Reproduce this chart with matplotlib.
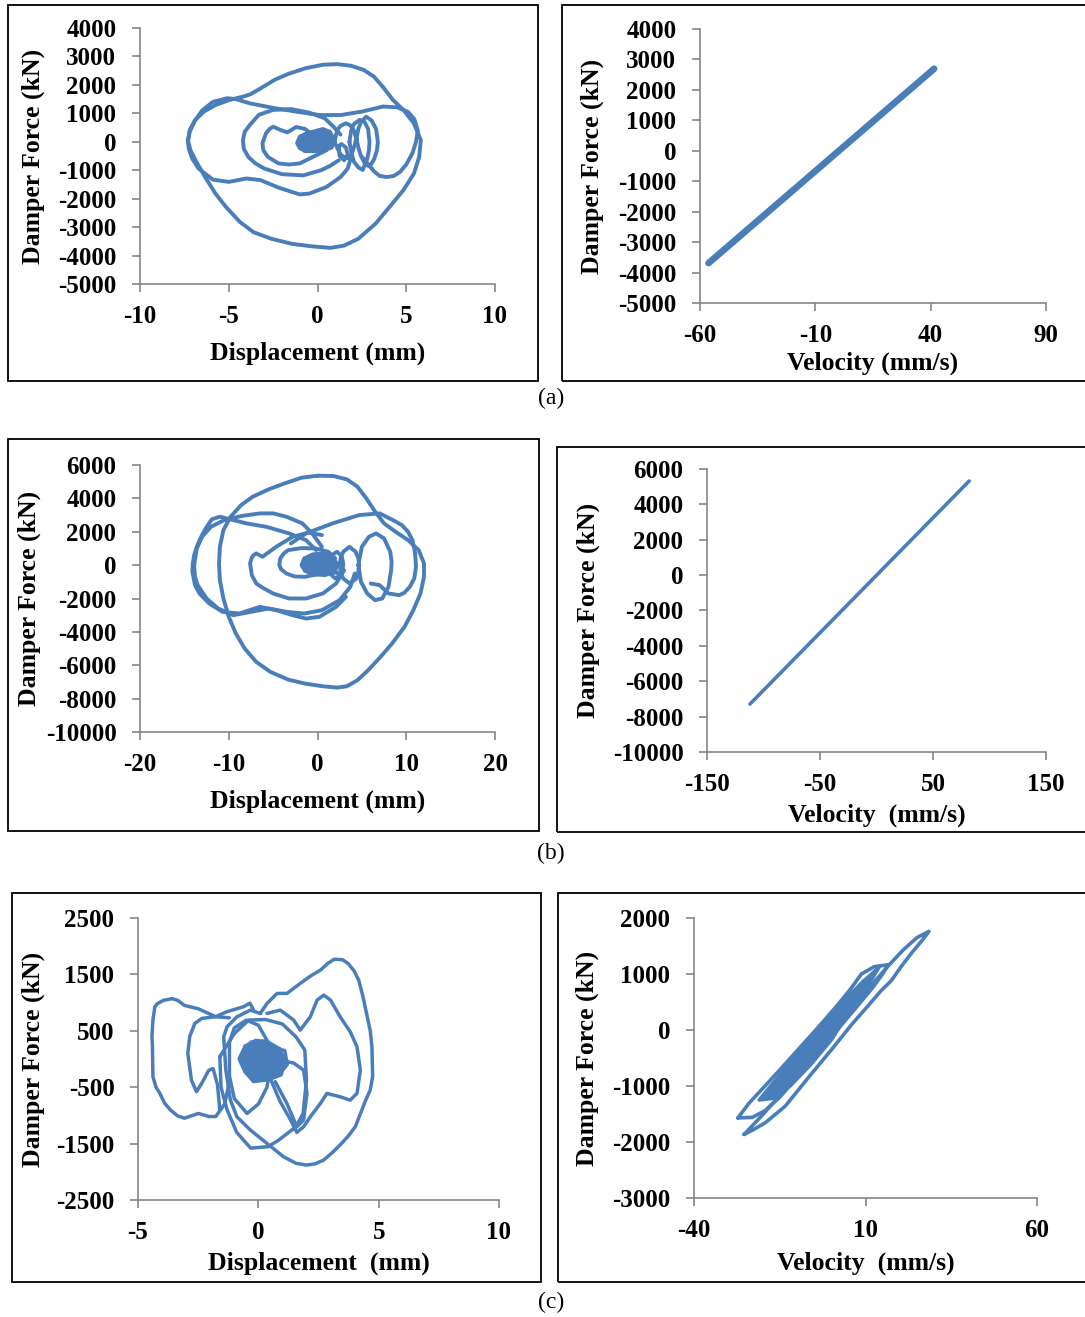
import matplotlib
matplotlib.use("Agg")
import matplotlib.pyplot as plt
from matplotlib.patches import Rectangle

plt.rcParams["font.family"] = ["Liberation Serif", "DejaVu Serif"]
plt.rcParams["font.weight"] = "bold"
plt.rcParams["axes.labelweight"] = "bold"
plt.rcParams["axes.unicode_minus"] = False

BLUE = "#4A7EBB"
GREY = "#868686"
W, H = 1085, 1317

# ---------------- (a) hysteresis, displacement [mm] vs damper force [kN]
a_disp_loops = [
    [3.67, 4.25, 4.84, 5.43, 5.82, 5.73, 5.43, 4.84, 4.06, 3.27, 2.3, 1.5, 0.73, -0.25, -1.43, -2.6, -3.6, -4.37,
     -5.16, -5.75, -6.33, -6.82, -7.16, -7.3, -7.2, -6.9, -6.4, -5.75, -4.96, -4.18, -3.78, -3.2, -2.41, -1.63,
     -0.65, 0.33, 1.12, 1.9, 2.59, 3.18, 3.67],
    [1.9, 1.7, 1.3, 0.5, -0.45, -1.0, -2.2, -3.2, -4.0, -5.0, -5.9, -6.7, -7.05, -7.25, -7.3, -7.2, -6.9, -6.5,
     -5.9, -5.1, -4.6, -3.8, -2.4, -1.2, 0.1, 1.3, 2.5, 3.7, 4.5, 5.1, 5.45, 5.65, 5.55, 5.35, 5.0, 4.65, 4.3,
     3.9, 3.5, 3.2, 2.9, 2.5],
    [1.2, 0.7, 0.2, -0.8, -2.0, -3.0, -3.5, -3.9, -4.15, -4.2, -4.1, -3.8, -3.3, -2.5, -1.5, -0.5, 0.4, 0.9, 1.3],
    [0.5, -0.25, -1.0, -1.6, -2.2, -2.8, -3.05, -3.1, -2.9, -2.7, -2.5, -2.1, -1.7, -1.2, -0.7, -0.3, 0.1],
    [0.96, 1.1, 1.3, 1.6, 1.85, 2.05, 2.18, 2.1, 2.0, 1.8, 1.55, 1.3, 1.1, 0.96],
    [1.8, 1.9, 2.05, 2.37, 2.65, 2.85, 2.93, 2.9, 2.8, 2.55, 2.3, 2.05, 1.9, 1.8],
    [2.2, 2.3, 2.45, 2.74, 3.05, 3.3, 3.4, 3.35, 3.2, 2.95, 2.7, 2.45, 2.3, 2.2],
    [1.2, 1.35, 1.6, 1.7, 1.5, 1.25, 1.2],
    [-0.9, -0.6, 0, 0.5, 0.8, 0.5, -0.1, -0.7, -0.9],
    [-0.7, -0.3, 0.3, 0.6, 0.3, -0.3, -0.7],
    [-0.5, 0, 0.4, 0.1, -0.4, -0.5],
]
a_force_loops = [
    [1940, 1470, 1120, 650, 60, -530, -1120, -1700, -2290, -2880, -3410, -3650, -3730, -3680, -3590, -3410,
     -3180, -2820, -2290, -1820, -1240, -710, -290, 60, 410, 760, 1060, 1290, 1470, 1590, 1670, 1880, 2180, 2390,
     2590, 2710, 2730, 2670, 2530, 2290, 1940],
    [-530, -940, -1240, -1590, -1820, -1850, -1610, -1350, -1290, -1410, -1330, -940, -600, -250, 0, 350, 750,
     1100, 1400, 1530, 1500, 1350, 1180, 1060, 940, 940, 1060, 1240, 1210, 1050, 800, 400, 0, -400, -800, -1060,
     -1200, -1240, -1200, -1050, -820, -530],
    [-650, -850, -1000, -1180, -1140, -940, -760, -530, -250, 60, 350, 600, 950, 1120, 1150, 1030, 830, 530, 250],
    [-300, -530, -760, -800, -760, -530, -300, -50, 300, 450, 530, 420, 330, 520, 450, 250, 100],
    [0, 400, 560, 650, 580, 400, 120, -100, -300, -580, -560, -450, -200, 0],
    [0, 400, 620, 770, 700, 450, 0, -300, -600, -990, -900, -700, -350, 0],
    [100, 450, 700, 880, 750, 450, 0, -300, -600, -870, -800, -500, -200, 100],
    [-150, -80, -200, -450, -650, -500, -150],
    [0, 250, 350, 250, 0, -250, -300, -200, 0],
    [0, 200, 250, 50, -200, -250, 0],
    [0, 120, 0, -150, -100, 0],
]
a_core_disp = [-1.15, -1.0, -0.6, -0.1, 0.3, 0.7, 0.95, 0.8, 0.4, -0.2, -0.7, -1.0, -1.15]
a_core_force = [-50, 180, 300, 380, 450, 350, 50, -200, -300, -330, -330, -220, -50]
a_vel = [-56.3, 41.5]
a_vel_force = [-3690, 2694]

# ---------------- (b)
b_disp_loops = [
    [0, 1.8, 3.3, 4.5, 5.5, 6.5, 7.5, 8.8, 10.2, 11.4, 12.0, 12.0, 11.6, 10.8, 9.8, 8.4, 7.1, 5.7, 4.5, 3.3, 2.2,
     0.6, -1.4, -3.3, -5.3, -6.9, -8.2, -9.2, -10, -10.6, -11.0, -11.1, -11.0, -10.6, -9.8, -8.6, -7.3, -5.5,
     -3.7, -1.8, 0],
    [3.2, 2.1, 0.2, -1.3, -2.8, -4.65, -6.5, -8.8, -10.7, -12.2, -13.3, -13.8, -14.1, -14.05, -13.9, -13.6,
     -13.2, -12.6, -11.9, -11.0, -9.5, -8.0, -5.8, -3.2, -1.3, -0.15],
    [0.5, -0.6, -1.7, -3.5, -5.0, -6.5, -8.5, -10.5, -12.0, -13.0, -13.6, -13.9, -13.8, -13.5, -12.5, -11.2,
     -9.5, -7.5, -5.5, -3.5, -1.5, 0.5, 2.5, 3.7, 4.2],
    [-3.0, -1.3, 1.7, 4.7, 7.0, 8.5, 9.5, 10.2, 10.7, 11.0, 11.1, 10.9, 10.4, 9.8, 9.2, 8.0, 7.0, 6.0],
    [3.0, 2.1, 0.6, -1.3, -3.2, -5.0, -6.2, -6.9, -7.4, -7.6, -7.4, -7.2, -6.9, -6.2, -4.65, -2.8, -1.0, 0.5],
    [2.5, 1.4, -0.5, -1.4, -2.6, -3.5, -4.1, -4.3, -4.2, -3.8, -3.3, -1.8, -0.2, 1.2, 2.0],
    [1.2, 1.3, 1.6, 2.2, 2.7, 2.85, 2.9, 2.8, 2.6, 2.0, 1.4, 1.25, 1.2],
    [2.5, 2.6, 2.9, 3.6, 4.3, 4.6, 4.7, 4.6, 4.4, 3.6, 2.9, 2.6, 2.5],
    [4.6, 5.0, 5.8, 6.6, 7.5, 8.2, 8.35, 8.3, 8.0, 7.3, 6.5, 5.6, 4.9, 4.6],
    [-1.5, -0.9, 0, 1.0, 1.8, 1.2, 0.2, -0.9, -1.5],
    [-1.2, -0.5, 0.5, 1.3, 0.9, -0.1, -1.0, -1.2],
    [-0.8, 0, 0.8, 0.5, -0.4, -0.8],
]
b_force_loops = [
    [5360, 5340, 5140, 4700, 4000, 3200, 2500, 2000, 1500, 900, 100, -700, -1700, -2700, -3700, -4700, -5500,
     -6300, -6900, -7260, -7340, -7260, -7100, -6860, -6400, -5800, -5000, -4100, -3100, -2000, -900, 100, 1100,
     2100, 2900, 3600, 4100, 4540, 4900, 5240, 5360],
    [-1900, -2500, -3100, -3200, -3000, -2700, -2500, -2900, -2800, -2300, -1700, -1200, -400, 110, 600, 1100,
     1600, 2200, 2750, 2900, 2700, 2500, 2300, 1900, 1500, 900],
    [1100, 1900, 2500, 2900, 3100, 3100, 2950, 2700, 2300, 1700, 1000, 0, -700, -1200, -2000, -2600, -3000,
     -2800, -2600, -2800, -2900, -2700, -2100, -1300, -500],
    [1300, 1900, 2500, 3000, 3100, 2700, 2400, 2000, 1500, 700, -100, -800, -1300, -1650, -1800, -1700, -1200,
     -1100],
    [-300, -1100, -1700, -2000, -2000, -1700, -1350, -1100, -600, 110, 450, 600, 700, 500, 1100, 1700, 1950, 1800],
    [-500, -400, -600, -700, -680, -500, -250, 0, 400, 700, 900, 1020, 1000, 800, 400],
    [0, 300, 600, 800, 550, 250, 0, -300, -600, -800, -500, -250, 0],
    [0, 400, 800, 1100, 800, 400, 0, -400, -800, -1100, -800, -400, 0],
    [0, 1100, 1700, 1900, 1600, 800, 200, -300, -1300, -2000, -2100, -1700, -1000, 0],
    [100, 500, 550, 450, 0, -450, -500, -300, 100],
    [0, 350, 400, 100, -300, -400, -200, 0],
    [0, 250, 0, -250, -200, 0],
]
b_core_disp = [-1.8, -1.5, -0.5, 0.6, 1.6, 2.2, 2.0, 0.8, -0.4, -1.4, -1.8]
b_core_force = [0, 400, 650, 700, 500, 100, -400, -600, -550, -350, 0]
b_vel = [-112, 82]
b_vel_force = [-7290, 5320]

# ---------------- (c)
c_disp_loops = [
    [0.08, 0.36, 0.78, 1.19, 1.74, 2.2, 2.58, 2.9, 3.16, 3.5, 3.74, 3.98, 4.17, 4.35, 4.5, 4.65, 4.72, 4.75, 4.65,
     4.46, 4.25, 4.03, 3.75, 3.45, 3.1, 2.72, 2.35, 2.0, 1.57, 1.05, 0.36, -0.33, -0.89, -1.16, -1.35, -1.44,
     -1.3, -0.89, -0.33, 0.08],
    [-0.2, -0.35, -0.6, -0.9, -1.33, -1.77, -2.06, -2.49, -3.07, -3.35, -3.58, -3.94, -4.2, -4.3, -4.38, -4.42,
     -4.4, -4.38, -4.25, -4.09, -3.9, -3.65, -3.35, -3.07, -2.49, -2.06, -1.77, -1.4, -1.2],
    [-1.2, -1.77, -2.35, -2.64, -2.85, -2.93, -2.85, -2.78, -2.57, -2.35, -2.06, -1.88, -1.7, -1.6],
    [-1.6, -1.55, -1.3, -0.9, -0.32, 0.4, 0.84, 1.57, 1.86, 2.0, 1.93, 1.57, 1.0, 0.3, -0.4, -1.0, -1.6],
    [-1.2, -1.2, -1.0, -0.47, 0.0, 0.36, 0.5, 0.4, 0.0, -0.5, -1.0, -1.2],
    [0.36, 0.91, 1.47, 1.74, 2.16, 2.44, 2.72, 3.0, 3.4, 3.82, 4.1, 4.24, 4.1, 3.82, 3.4, 2.85, 2.58, 2.16, 1.88,
     1.6],
    [0.9, 1.47, 1.88, 2.02, 1.88, 1.6, 1.2, 0.7],
    [0.5, 0.9, 1.3, 1.6],
    [-0.7, -0.3, 0.3, 0.9, 1.1, 0.7, 0, -0.5, -0.7],
    [-0.5, 0, 0.6, 0.9, 0.5, -0.2, -0.5],
    [0.2, 0.6, 1.1, 1.2, 0.9, 0.5, 0.2],
]
c_force_loops = [
    [808, 985, 1163, 1163, 1340, 1480, 1576, 1700, 1770, 1760, 1690, 1560, 1400, 1100, 800, 500, 220, -310, -550,
     -730, -960, -1200, -1360, -1500, -1650, -1790, -1860, -1880, -1850, -1734, -1497, -1260, -1025, -729, -200,
     394, 571, 748, 867, 808],
    [870, 990, 930, 890, 835, 750, 805, 890, 950, 1040, 1070, 1040, 980, 925, 690, 400, 216, -315, -500, -610,
     -780, -905, -1010, -1050, -965, -1020, -1020, -800, -400],
    [730, 750, 720, 630, 400, 100, -150, -375, -580, -430, -200, -170, -450, -900],
    [40, -500, -900, -1300, -1580, -1555, -1440, -1200, -965, -375, 160, 390, 620, 700, 690, 450, 40],
    [300, -300, -700, -965, -800, -500, -100, 300, 600, 690, 550, 300],
    [808, 867, 690, 512, 748, 1044, 1133, 1044, 748, 482, 216, -197, -610, -729, -670, -610, -787, -1024, -1202,
     -1300],
    [-20, -73, -197, -610, -1083, -1202, -800, -400],
    [-350, -750, -1050, -1300],
    [50, 300, 320, 150, -150, -300, -350, -200, 50],
    [0, 250, 200, -50, -250, -250, 0],
    [0, 200, 150, -100, -250, -150, 0],
]
c_core_disp = [-0.8, -0.55, -0.1, 0.4, 0.9, 1.1, 0.95, 0.4, -0.2, -0.55, -0.8]
c_core_force = [0, 230, 330, 300, 180, -50, -280, -370, -400, -230, 0]

c_vel_loops = [
    [-25.4, -21.3, -17.3, -12, -6, 0, 6, 12, 17, 21, 25, 28.5, 26.5, 23.5, 20.5, 17.5, 14.5, 11, 6, 0.5, -6,
     -13.4, -19.3, -23, -25.4],
    [-27.2, -24, -19.3, -14.5, -9.5, -4.5, 1.5, 5.5, 8.8, 12.5, 16.6, 15, 12, 7, 2, -4, -10, -15, -19.3, -23, -27.2],
    [-19, -15, -9, -3, 3, 8, 11.5, 14, 12, 8, 3, -3, -9, -15, -19],
]
c_vel_force_loops = [
    [-1865, -1600, -1330, -950, -500, -60, 400, 820, 1170, 1430, 1650, 1760, 1600, 1380, 1140, 880, 700, 450, 100,
     -320, -800, -1360, -1660, -1790, -1865],
    [-1570, -1310, -1000, -680, -340, 0, 420, 720, 1000, 1130, 1165, 1000, 750, 380, 20, -420, -850, -1200, -1440,
     -1560, -1570],
    [-1150, -900, -480, -40, 400, 760, 980, 1130, 950, 640, 260, -200, -640, -1000, -1150],
]
# dense inner cycles drawn as a solid band
c_core_vel = [-21, -17, -12, -6, 0, 5, 9.5, 13.5, 11, 6, 0, -6, -12, -17, -21]
c_core_vel_force = [-1250, -950, -580, -170, 250, 600, 880, 1080, 820, 400, -180, -620, -1000, -1220, -1250]

fig = plt.figure(figsize=(W / 100, H / 100), dpi=100)


def add_panel(l, r, t, b):
    return fig.add_axes([l / W, 1 - b / H, (r - l) / W, (b - t) / H])


def frame(x0, x1, y0, y1):
    fig.add_artist(Rectangle((x0 / W, 1 - y1 / H), (x1 - x0) / W, (y1 - y0) / H,
                             transform=fig.transFigure, fill=False, lw=1.3, ec="black"))


def style(ax, box, xlim, xticks, ylim, yticks, xlabel, ylab_x, xlab_y):
    l, r, t, b = box
    ax.set_xlim(xlim)
    ax.set_ylim(ylim)
    ax.set_xticks(xticks)
    ax.set_yticks(yticks)
    ax.patch.set_visible(False)
    for s in ("top", "right"):
        ax.spines[s].set_visible(False)
    for s in ("left", "bottom"):
        ax.spines[s].set_color(GREY)
        ax.spines[s].set_linewidth(1.2)
    ax.tick_params(direction="out", length=5.5, width=1.2, color=GREY, labelsize=18, pad=11.5)
    ax.tick_params(axis="x", pad=9.5)
    ax.set_xlabel(xlabel, fontsize=18.5, va="center")
    ax.set_ylabel("Damper Force (kN)", fontsize=18.5, va="center")
    ax.xaxis.set_label_coords(0.5, (b - xlab_y) / (b - t))
    ax.yaxis.set_label_coords((ylab_x - l) / (r - l), 0.5)


def loops(ax, xs, ys, lw):
    for x, y in zip(xs, ys):
        ax.plot(x, y, color=BLUE, lw=lw, solid_joinstyle="round", solid_capstyle="round")


def core(ax, x, y, lw):
    ax.fill(x, y, color=BLUE, lw=lw, joinstyle="round")


frame(8, 538, 5, 381)
frame(562, 1095, 5, 381)
frame(8, 539, 439, 831)
frame(557, 1095, 447, 832)
frame(12, 541, 893, 1282)
frame(558, 1095, 893, 1282)

box = (140, 495, 28, 284)
ax = add_panel(*box)
loops(ax, a_disp_loops, a_force_loops, 2.8)
core(ax, a_core_disp, a_core_force, 2.8)
style(ax, box, (-10, 10), [-10, -5, 0, 5, 10], (-5000, 4000), range(-5000, 4001, 1000),
      "Displacement (mm)", 33, 353)

box = (700, 1046, 29, 303)
ax = add_panel(*box)
ax.plot(a_vel, a_vel_force, color=BLUE, lw=4.8, solid_capstyle="round")
style(ax, box, (-60, 90), [-60, -10, 40, 90], (-5000, 4000), range(-5000, 4001, 1000),
      "Velocity (mm/s)", 592, 363)

box = (140, 495, 465, 732)
ax = add_panel(*box)
loops(ax, b_disp_loops, b_force_loops, 2.8)
core(ax, b_core_disp, b_core_force, 2.8)
style(ax, box, (-20, 20), [-20, -10, 0, 10, 20], (-10000, 6000), range(-10000, 6001, 2000),
      "Displacement (mm)", 29, 801)

box = (707, 1046, 469, 752)
ax = add_panel(*box)
ax.plot(b_vel, b_vel_force, color=BLUE, lw=2.6, solid_capstyle="round")
style(ax, box, (-150, 150), [-150, -50, 50, 150], (-10000, 6000), range(-10000, 6001, 2000),
      "Velocity  (mm/s)", 588, 815)

box = (138, 499, 918, 1200)
ax = add_panel(*box)
loops(ax, c_disp_loops, c_force_loops, 2.5)
core(ax, c_core_disp, c_core_force, 2.5)
style(ax, box, (-5, 10), [-5, 0, 5, 10], (-2500, 2500), range(-2500, 2501, 1000),
      "Displacement  (mm)", 33, 1263)

box = (694, 1037, 918, 1198)
ax = add_panel(*box)
loops(ax, c_vel_loops, c_vel_force_loops, 2.6)
core(ax, c_core_vel, c_core_vel_force, 2.6)
style(ax, box, (-40, 60), [-40, 10, 60], (-3000, 2000), range(-3000, 2001, 1000),
      "Velocity  (mm/s)", 587, 1263)

for lab, y in (("(a)", 398), ("(b)", 853), ("(c)", 1302)):
    fig.text(551 / W, 1 - y / H, lab, ha="center", va="center", fontsize=17, fontweight="normal")

fig.savefig("out.png", dpi=100, facecolor="white")
